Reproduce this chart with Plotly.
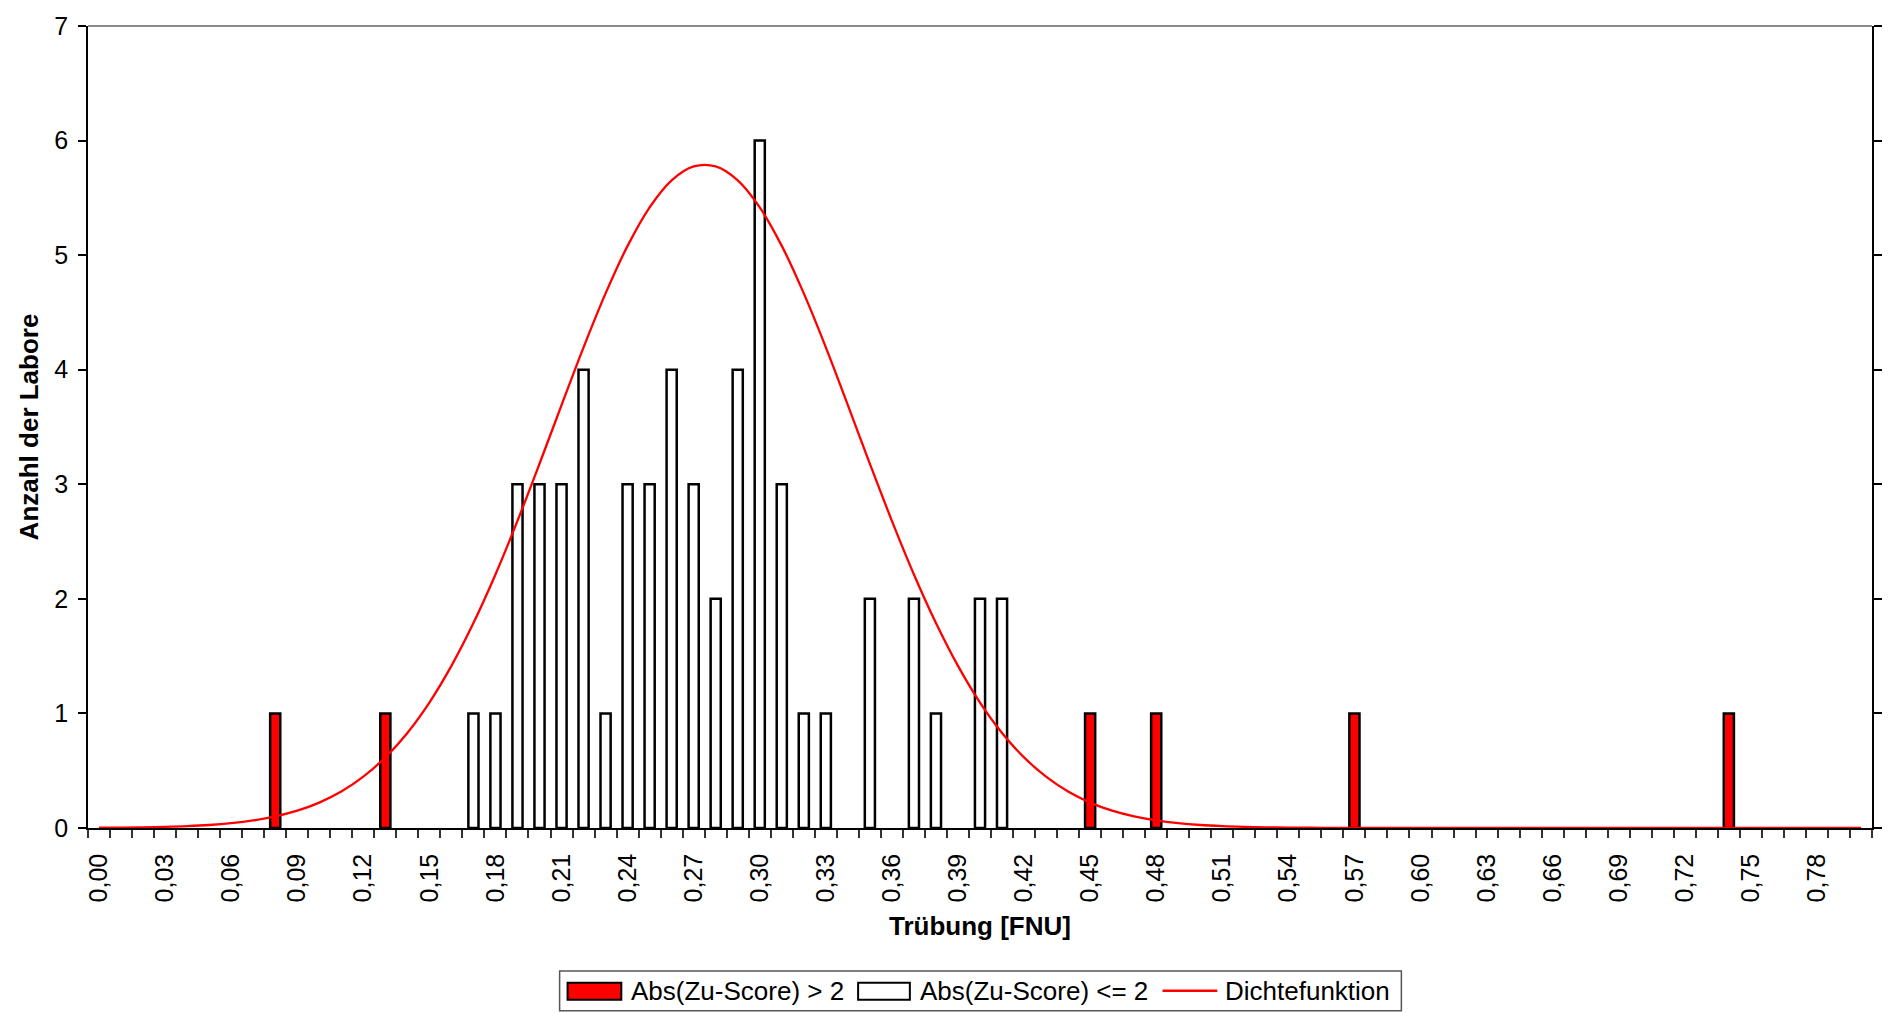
import plotly.graph_objects as go

# ---------------- data ----------------
categories = [round(i * 0.01, 2) for i in range(81)]  # 0,00 ... 0,80 (category grid)

outlier_x = [0.08, 0.13, 0.45, 0.48, 0.57, 0.74]
outlier_counts = [1, 1, 1, 1, 1, 1]

inlier_x = [0.17, 0.18, 0.19, 0.20, 0.21, 0.22, 0.23, 0.24, 0.25, 0.26, 0.27,
            0.28, 0.29, 0.30, 0.31, 0.32, 0.33, 0.35, 0.37, 0.38, 0.40, 0.41]
inlier_counts = [1, 1, 3, 3, 3, 4, 1, 3, 3, 4, 3,
                 2, 4, 6, 3, 1, 1, 2, 2, 1, 2, 2]

density = [0.002, 0.003, 0.006, 0.010, 0.016, 0.026, 0.042, 0.066, 0.101, 0.151,
           0.222, 0.318, 0.448, 0.616, 0.830, 1.095, 1.415, 1.789, 2.213, 2.681,
           3.179, 3.691, 4.195, 4.666, 5.081, 5.417, 5.653, 5.774, 5.774, 5.653,
           5.417, 5.081, 4.666, 4.195, 3.691, 3.179, 2.681, 2.213, 1.789, 1.415,
           1.095, 0.830, 0.616, 0.448, 0.318, 0.222, 0.151, 0.101, 0.066, 0.042,
           0.026, 0.016, 0.010, 0.006, 0.003, 0.002, 0.001, 0.001, 0.000, 0.000,
           0.000, 0.000, 0.000, 0.000, 0.000, 0.000, 0.000, 0.000, 0.000, 0.000,
           0.000, 0.000, 0.000, 0.000, 0.000, 0.000, 0.000, 0.000, 0.000, 0.000,
           0.000]

y_ticks = [0, 1, 2, 3, 4, 5, 6, 7]
x_tick_vals = categories[::3]
x_tick_text = ["0,00", "0,03", "0,06", "0,09", "0,12", "0,15", "0,18", "0,21", "0,24",
               "0,27", "0,30", "0,33", "0,36", "0,39", "0,42", "0,45", "0,48", "0,51",
               "0,54", "0,57", "0,60", "0,63", "0,66", "0,69", "0,72", "0,75", "0,78"]

legend_labels = ["Abs(Zu-Score) > 2", "Abs(Zu-Score) <= 2", "Dichtefunktion"]

# ---------------- layout geometry ----------------
W, H = 1894, 1013
PL, PR, PT, PB = 88, 1881, 20, 828
FONT = "Liberation Sans, Arial, sans-serif"
RED = "#FF0000"


def px(x):
    return (x - PL) / (PR - PL)


def py(y):
    return (PB - y) / (PB - PT)


fig = go.Figure()

fig.add_trace(go.Bar(
    x=outlier_x, y=outlier_counts, name=legend_labels[0], width=0.0046,
    marker=dict(color=RED, line=dict(color="black", width=2.5)), showlegend=False))
fig.add_trace(go.Bar(
    x=inlier_x, y=inlier_counts, name=legend_labels[1], width=0.0046,
    marker=dict(color="white", line=dict(color="black", width=2.5)), showlegend=False))
fig.add_trace(go.Scatter(
    x=categories, y=density, name=legend_labels[2], mode="lines",
    line=dict(color=RED, width=2.3, shape="spline", smoothing=1), showlegend=False))

xr = [-0.005, 0.805]

fig.update_layout(
    width=W, height=H,
    margin=dict(l=PL, r=W - PR, t=PT, b=H - PB),
    paper_bgcolor="white", plot_bgcolor="white",
    barmode="overlay",
    showlegend=False,
    font=dict(family=FONT, size=25, color="black"),
    xaxis=dict(
        range=xr, tickmode="array", tickvals=x_tick_vals, ticktext=x_tick_text,
        tickangle=-90, ticks="", showgrid=False, zeroline=False,
        showline=True, linecolor="black", linewidth=1.5, layer="below traces",
        ticklabelstandoff=14,
        tickfont=dict(family=FONT, size=25, color="black"),
        minor=dict(ticks="outside", tick0=-0.005, dtick=0.01, ticklen=8,
                   tickwidth=1.5, tickcolor="#333", showgrid=False),
        title=dict(text="Trübung [FNU]", standoff=15,
                   font=dict(family=FONT, size=26, color="black", weight="bold")),
    ),
    xaxis2=dict(
        range=xr, overlaying="x", anchor="y", side="bottom",
        showticklabels=False, ticks="", showgrid=False, zeroline=False, showline=False,
        minor=dict(ticks="inside", tick0=-0.005, dtick=0.01, ticklen=8,
                   tickwidth=1.5, tickcolor="#333", showgrid=False),
    ),
    yaxis=dict(
        range=[0, 7], tickmode="array", tickvals=y_ticks,
        ticks="outside", ticklen=8, tickwidth=1.5, tickcolor="black",
        showgrid=False, zeroline=False, showline=True, linecolor="black",
        linewidth=1.5, mirror="ticks", layer="below traces",
        ticklabelstandoff=5,
        tickfont=dict(family=FONT, size=25, color="black"),
        title=dict(text="Anzahl der Labore", standoff=8,
                   font=dict(family=FONT, size=26, color="black", weight="bold")),
    ),
    yaxis2=dict(
        range=[0, 7], overlaying="y", anchor="x", side="left",
        tickmode="array", tickvals=y_ticks, showticklabels=False,
        ticks="inside", ticklen=8, tickwidth=1.5, tickcolor="black",
        showgrid=False, zeroline=False, showline=False, mirror="ticks",
    ),
)

shapes = []
# gray top border of plot area
shapes.append(dict(type="line", xref="paper", yref="paper", x0=0, x1=1, y0=1, y1=1,
                   line=dict(color="#8c8c8c", width=2)))
# legend box
shapes.append(dict(type="rect", xref="paper", yref="paper",
                   x0=px(562), x1=px(1408), y0=py(1012), y1=py(972),
                   line=dict(color="#555", width=1.5), fillcolor="white"))
# legend swatches
shapes.append(dict(type="rect", xref="paper", yref="paper",
                   x0=px(570), x1=px(624), y0=py(1001), y1=py(984),
                   line=dict(color="black", width=2), fillcolor=RED))
shapes.append(dict(type="rect", xref="paper", yref="paper",
                   x0=px(862), x1=px(914), y0=py(1001), y1=py(984),
                   line=dict(color="black", width=2), fillcolor="white"))
shapes.append(dict(type="line", xref="paper", yref="paper",
                   x0=px(1168), x1=px(1223), y0=py(992), y1=py(992),
                   line=dict(color=RED, width=2.5)))
fig.update_layout(shapes=shapes)

for xpos, txt in zip([632, 922, 1229], legend_labels):
    fig.add_annotation(x=px(xpos), y=py(992), xref="paper", yref="paper",
                       text=txt, showarrow=False, xanchor="left", yanchor="middle",
                       font=dict(family=FONT, size=26, color="black"))

fig.write_html("out.html", config={"displayModeBar": False},
               post_script="document.body.style.margin='0';document.body.style.overflow='hidden';")
